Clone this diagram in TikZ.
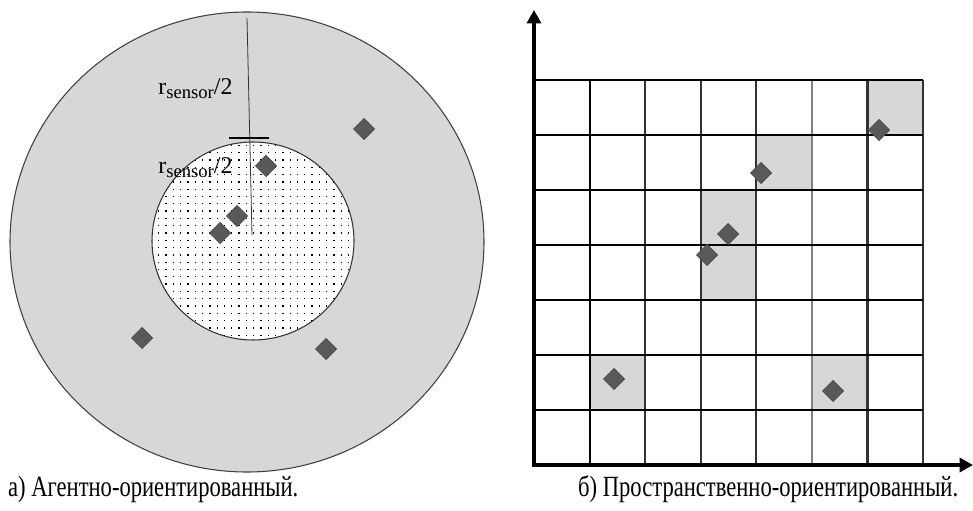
\documentclass[tikz,border=0pt]{standalone}
\usepackage{fontspec}
\setmainfont{Liberation Serif}
\usepackage{tikz}
\usetikzlibrary{arrows.meta, shapes.geometric}
\definecolor{zonegray}{HTML}{D7D7D7}
\definecolor{agentgray}{HTML}{595959}

\begin{document}
\begin{tikzpicture}[x=0.75pt, y=0.75pt,
  agent/.style={diamond, fill=agentgray, draw=black!70, line width=0.5pt, inner sep=0pt, minimum width=16pt, minimum height=16pt},
  cellline/.style={line width=1.6pt},
  axis/.style={line width=3.5pt, -{Triangle[length=10pt, width=10.5pt]}},
  rlabel/.style={anchor=base west, inner sep=0pt, font=\fontsize{18}{20}\selectfont},
  caption/.style={anchor=base west, inner sep=0pt, xscale=0.77, font=\fontsize{22}{24}\selectfont}]
\useasboundingbox (0,0) rectangle (973,510);
\draw[black!75, line width=0.8pt, fill=zonegray] (247,268) ellipse (237 and 230);
\fill[white] (253,269) ellipse (101 and 99);
\begin{scope}
\clip (253,269) ellipse (101 and 99);
\foreach \i in {-14,...,14}
  \foreach \j in {-14,...,14}
    \fill (253+7.3*\i,269+7.3*\j) rectangle +(1.3,1.3);
\end{scope}
\draw[black!80, line width=0.8pt] (253,269) ellipse (101 and 99);
\coordinate (rtop) at (247,492);
\coordinate (rctr) at (252,275);
\coordinate (tickl) at (229,372);
\coordinate (tickr) at (269,372);
\draw[black!80, line width=0.6pt] (rtop) -- (rctr);
\draw[line width=1.2pt] (tickl) -- (tickr);
\node[rlabel] (router) at (158,415) {r{\fontsize{14}{15}\selectfont\raisebox{-3pt}{sensor}}/2};
\node[rlabel] (rinner) at (158,336) {r{\fontsize{14}{15}\selectfont\raisebox{-3pt}{sensor}}/2};
\node[agent] (a1) at (364,381) {};
\node[agent] (a2) at (266,344) {};
\node[agent] (a3) at (237,294) {};
\node[agent] (a4) at (220,277) {};
\node[agent] (a5) at (142,172) {};
\node[agent] (a6) at (326,161) {};
\foreach \c/\r in {6/0,4/1,3/2,3/3,1/5,5/5}
  \fill[zonegray] (534+55.57*\c,430-55*\r) rectangle +(55.57,-55);
\foreach \c/\g in {1/100,2/80,3/80,4/80,5/50,6/80,7/80}
  \draw[cellline, black!\g] (534+55.57*\c,45) -- (534+55.57*\c,430);
\foreach \r in {0,...,6}
  \draw[cellline] (534,430-55*\r) -- (923,430-55*\r);
\node[agent] (b1) at (879,380) {};
\node[agent] (b2) at (761,337) {};
\node[agent] (b3) at (728,276) {};
\node[agent] (b4) at (707,255) {};
\node[agent] (b5) at (614,131) {};
\node[agent] (b6) at (833,119) {};
\coordinate (origin) at (534,45);
\coordinate (corner) at (531.7,45);
\coordinate (yend) at (534,500);
\coordinate (xend) at (973,45);
\draw[axis] (origin) -- (yend);
\draw[axis] (corner) -- (xend);
\node[caption] (capa) at (8,14) {а) Агентно-ориентированный.};
\node[caption] (capb) at (578,14) {б) Пространственно-ориентированный.};
\end{tikzpicture}
\end{document}
